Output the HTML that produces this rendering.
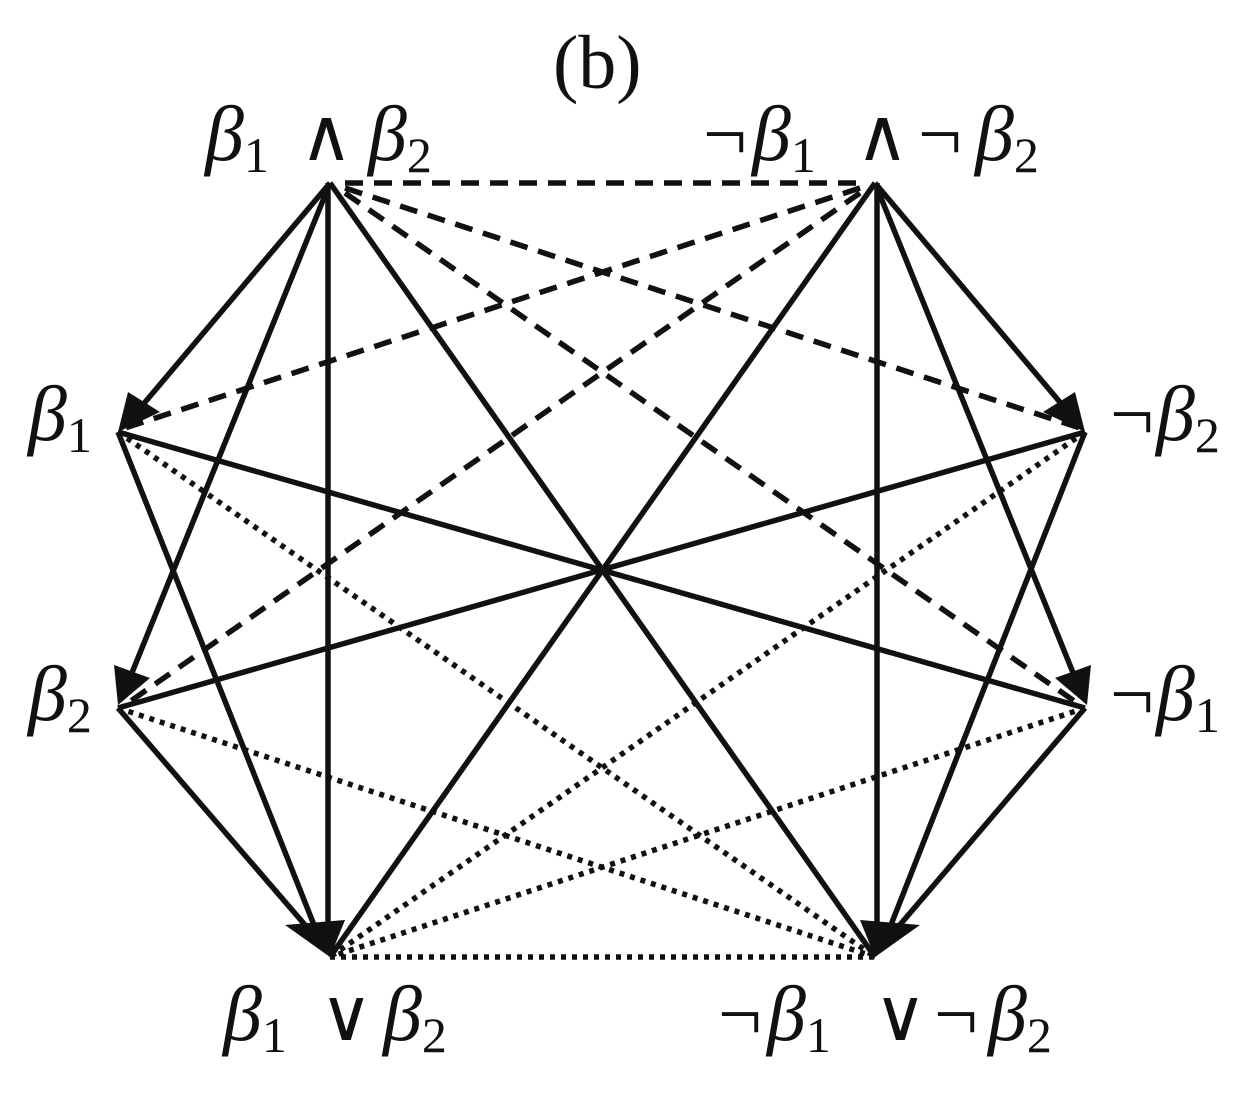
<!DOCTYPE html>
<html><head><meta charset="utf-8"><style>
html,body{margin:0;padding:0;background:#fff;}
svg{display:block;}
text{font-family:"Liberation Serif","DejaVu Serif",serif;fill:#111;}
.b{font-style:italic;}
.s{font-size:50px;}
.o{font-size:72px;}
</style></head><body>
<svg width="1258" height="1093" viewBox="0 0 1258 1093" xmlns="http://www.w3.org/2000/svg">
<g stroke="#111" stroke-width="5.5" fill="none" stroke-linecap="butt">
<line x1="330" y1="183" x2="130" y2="420"/>
<line x1="330" y1="183" x2="125" y2="690"/>
<line x1="328" y1="183" x2="328" y2="935"/>
<line x1="330" y1="183" x2="875" y2="957"/>
<line x1="875" y1="183" x2="1075" y2="420"/>
<line x1="875" y1="183" x2="1080" y2="690"/>
<line x1="877" y1="183" x2="877" y2="935"/>
<line x1="875" y1="183" x2="330" y2="957"/>
<line x1="118" y1="432" x2="1085" y2="708"/>
<line x1="118" y1="708" x2="1085" y2="432"/>
<line x1="118" y1="432" x2="318" y2="935"/>
<line x1="118" y1="708" x2="318" y2="940"/>
<line x1="1085" y1="432" x2="887" y2="935"/>
<line x1="1085" y1="708" x2="887" y2="940"/>
</g>
<g stroke="#111" stroke-width="5.5" fill="none" stroke-dasharray="18 11">
<line x1="345" y1="183" x2="865" y2="183"/>
<line x1="345" y1="188" x2="1080" y2="428"/>
<line x1="345" y1="193" x2="1080" y2="705"/>
<line x1="860" y1="188" x2="125" y2="428"/>
<line x1="860" y1="193" x2="125" y2="705"/>
</g>
<g stroke="#111" stroke-width="5.5" fill="none" stroke-dasharray="5 6">
<line x1="330" y1="957" x2="875" y2="957"/>
<line x1="118" y1="432" x2="875" y2="957"/>
<line x1="118" y1="708" x2="875" y2="957"/>
<line x1="1085" y1="432" x2="330" y2="957"/>
<line x1="1085" y1="708" x2="330" y2="957"/>
</g>
<g fill="#111">
<polygon points="118,432 128,392 160,412"/>
<polygon points="118,705 114,665 150,678"/>
<polygon points="1085,432 1075,392 1043,412"/>
<polygon points="1087,705 1091,665 1055,678"/>
<polygon points="330,957 285,925 345,920"/>
<polygon points="875,957 920,925 860,920"/>
</g>
<text x="553" y="88" font-size="76">(b)</text>
<text y="160" font-size="78"><tspan x="205" class="b">β</tspan><tspan class="s" dy="12">1</tspan><tspan dy="-12" class="o" x="300">∧</tspan><tspan x="368" class="b">β</tspan><tspan class="s" dy="12">2</tspan></text>
<text y="160" font-size="78"><tspan x="703">¬</tspan><tspan x="752" class="b">β</tspan><tspan class="s" dy="12">1</tspan><tspan dy="-12" class="o" x="856">∧</tspan><tspan x="918">¬</tspan><tspan x="975" class="b">β</tspan><tspan class="s" dy="12">2</tspan></text>
<text x="28" y="440" font-size="78"><tspan class="b">β</tspan><tspan class="s" dy="12">1</tspan></text>
<text x="28" y="720" font-size="78"><tspan class="b">β</tspan><tspan class="s" dy="12">2</tspan></text>
<text y="440" font-size="78"><tspan x="1110">¬</tspan><tspan x="1156" class="b">β</tspan><tspan class="s" dy="12">2</tspan></text>
<text y="720" font-size="78"><tspan x="1110">¬</tspan><tspan x="1156" class="b">β</tspan><tspan class="s" dy="12">1</tspan></text>
<text y="1040" font-size="78"><tspan x="223" class="b">β</tspan><tspan class="s" dy="12">1</tspan><tspan dy="-12" class="o" x="320">∨</tspan><tspan x="383" class="b">β</tspan><tspan class="s" dy="12">2</tspan></text>
<text y="1040" font-size="78"><tspan x="718">¬</tspan><tspan x="767" class="b">β</tspan><tspan class="s" dy="12">1</tspan><tspan dy="-12" class="o" x="874">∨</tspan><tspan x="934">¬</tspan><tspan x="988" class="b">β</tspan><tspan class="s" dy="12">2</tspan></text>
</svg>
</body></html>
